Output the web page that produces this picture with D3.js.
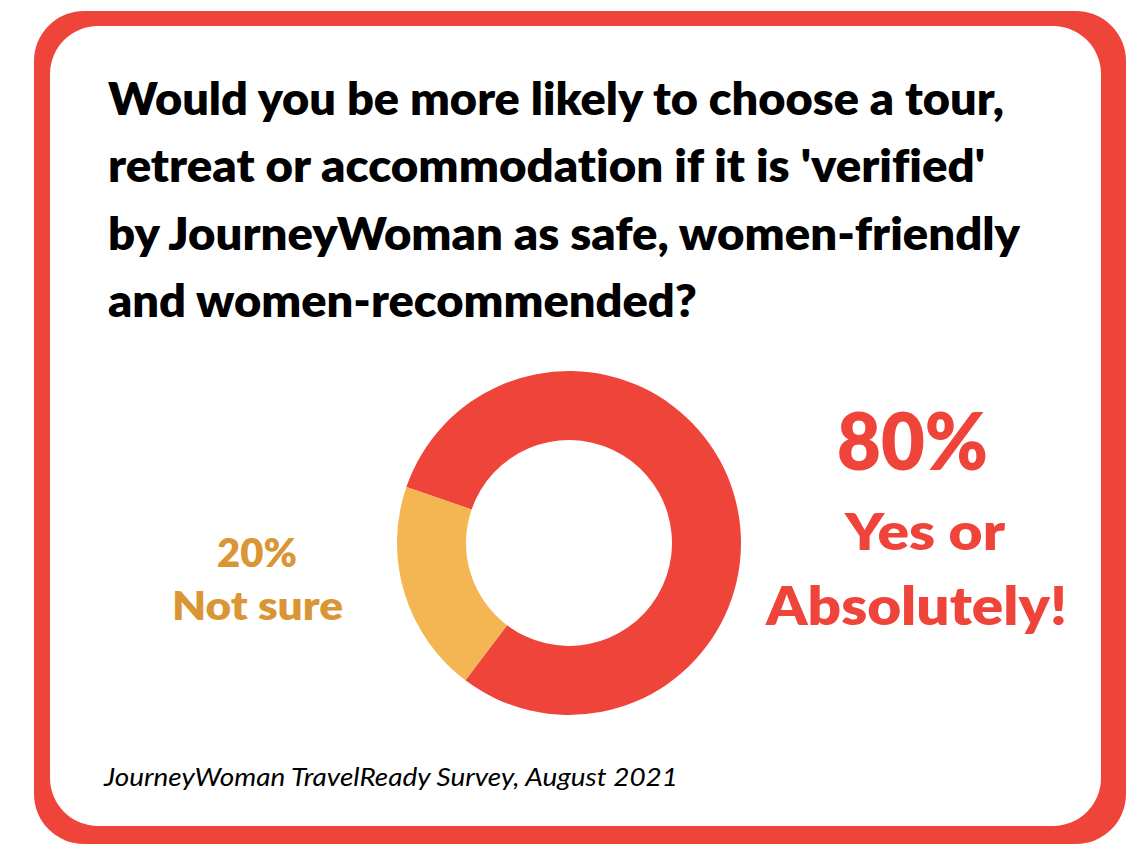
<!DOCTYPE html>
<html>
<head>
<meta charset="utf-8">
<script src="https://cdn.jsdelivr.net/npm/d3@7"></script>
<style>
  html, body { margin: 0; padding: 0; background: #ffffff; }
  svg { display: block; }
  text { font-variant-ligatures: none; }
</style>
</head>
<body>
<svg id="chart" width="1146" height="868"></svg>
<script>
// ---- data ----
const categories = ["Yes or Absolutely!", "Not sure"];
const values = [80, 20];
const sliceColors = ["#EF443A", "#F4B553"];
const labelColors = ["#EF443A", "#DA9535"];
const titleLines = [
  "Would you be more likely to choose a tour,",
  "retreat or accommodation if it is 'verified'",
  "by JourneyWoman as safe, women-friendly",
  "and women-recommended?"
];
const sourceNote = "JourneyWoman TravelReady Survey, August 2021";

const W = 1146, H = 868;
const svg = d3.select("#chart");
const FONT = "Lato, 'Open Sans', sans-serif";

// frame
svg.append("rect").attr("x", 34).attr("y", 11).attr("width", 1092).attr("height", 833)
  .attr("rx", 50).attr("ry", 50).attr("fill", "#EF443A");
svg.append("rect").attr("x", 50).attr("y", 26).attr("width", 1051).attr("height", 800)
  .attr("rx", 48).attr("ry", 48).attr("fill", "#ffffff");

// helper: text fitted to a width
function fitText(g, str, x, y, size, width, opts = {}) {
  const t = g.append("text")
    .attr("x", x).attr("y", y)
    .attr("font-family", FONT)
    .attr("font-size", size)
    .attr("font-weight", opts.weight || 800)
    .attr("font-style", opts.style || "normal")
    .attr("fill", opts.fill || "#000")
    .attr("text-anchor", opts.anchor || "start")
    .text(str);
  if (width) t.attr("textLength", width).attr("lengthAdjust", "spacingAndGlyphs");
  return t;
}

// title
const titleG = svg.append("g");
const titleWidths = [896, 877, 912, 589];
titleLines.forEach((line, i) => {
  fitText(titleG, line, 108, 115 + i * 67.3, 45, titleWidths[i]);
});

// donut
const cx = 569, cy = 543;
const pie = d3.pie().sort(null).value(d => d)
  .startAngle(-71 * Math.PI / 180).endAngle((360 - 71) * Math.PI / 180);
const arc = d3.arc().innerRadius(103).outerRadius(172);
const donut = svg.append("g").attr("transform", `translate(${cx},${cy})`);
donut.selectAll("path").data(pie(values)).join("path")
  .attr("d", arc)
  .attr("fill", (d, i) => sliceColors[i]);

// labels
const lg = svg.append("g");
// Yes
fitText(lg, `${values[0]}%`, 837, 470, 80, 151, { fill: labelColors[0] });
fitText(lg, "Yes or", 845, 550, 51, 160, { fill: labelColors[0] });
fitText(lg, "Absolutely!", 766, 625, 52, 301, { fill: labelColors[0] });
// Not sure
fitText(lg, `${values[1]}%`, 217, 567, 39, 80, { fill: labelColors[1] });
fitText(lg, categories[1], 172, 620, 39, 171, { fill: labelColors[1] });

// source
fitText(svg, sourceNote, 104, 786, 25, 574, { weight: 400, style: "italic" });
</script>
</body>
</html>
